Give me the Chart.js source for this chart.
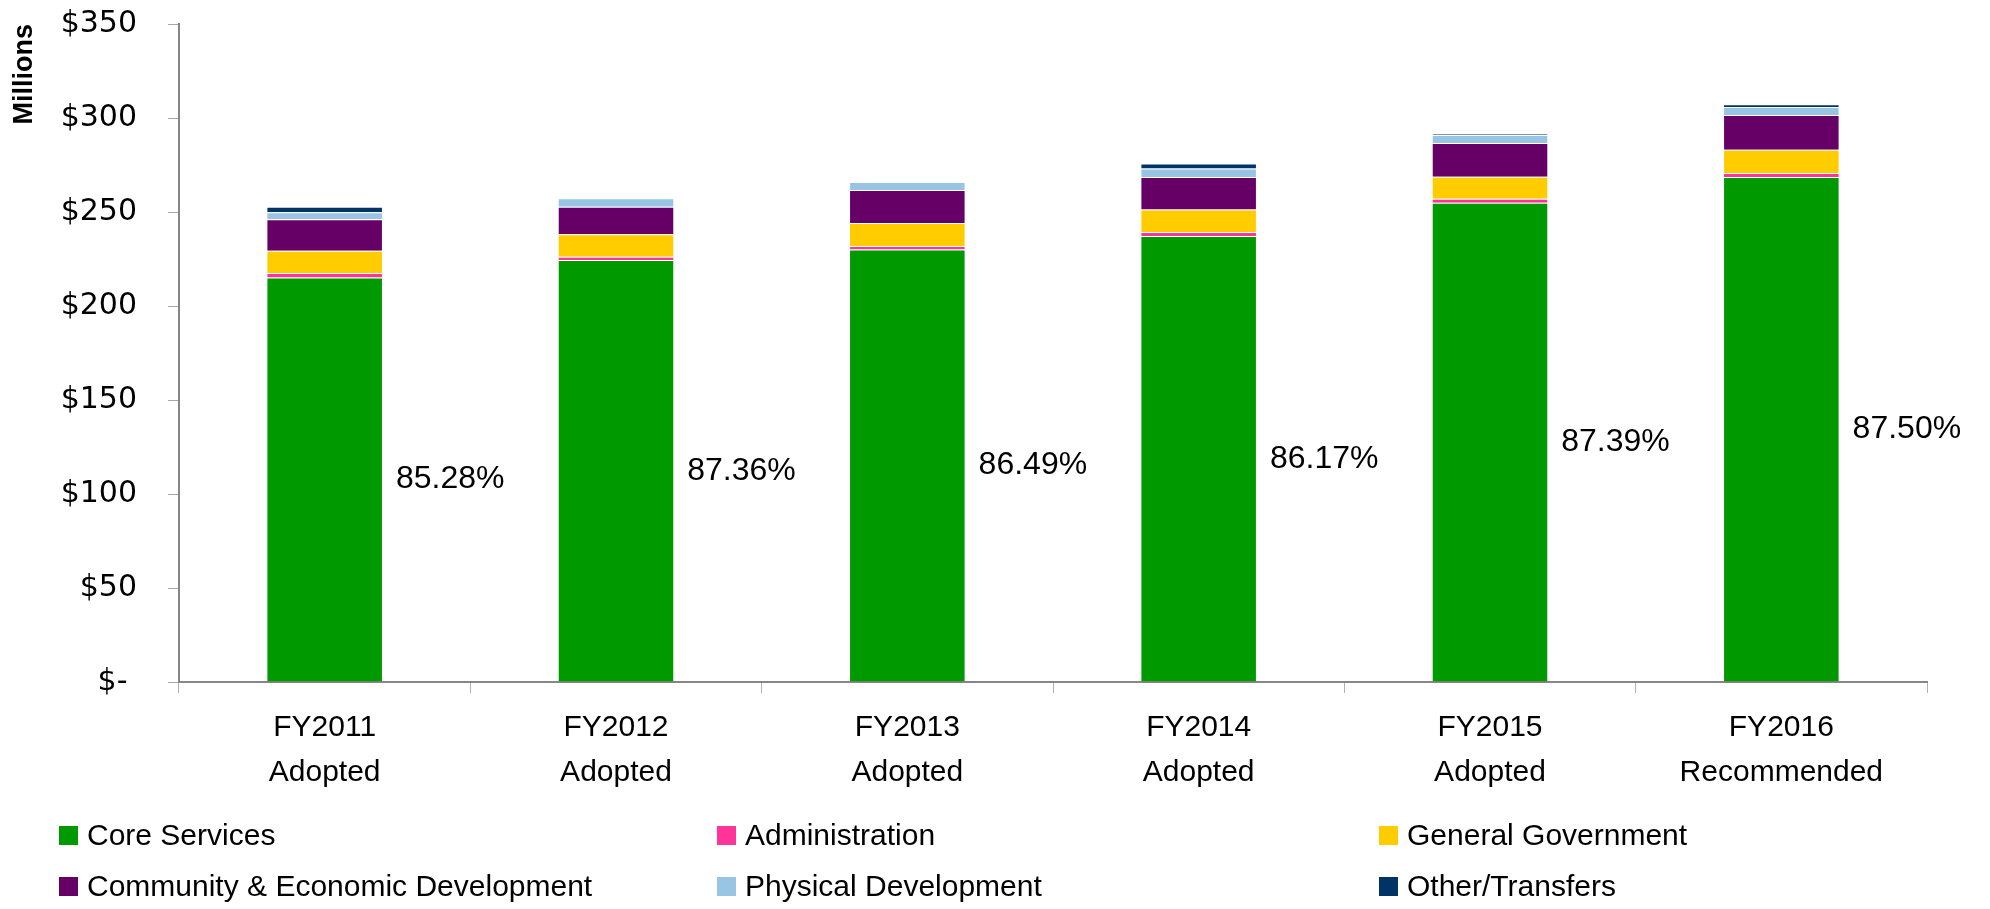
<!DOCTYPE html>
<html>
<head>
<meta charset="utf-8">
<title>Budget by Service Area</title>
<script src="https://cdn.jsdelivr.net/npm/chart.js@4.4.0/dist/chart.umd.min.js"></script>
<style>
    html, body { margin: 0; padding: 0; background: #fff; }
    #wrap { position: relative; width: 1990px; height: 909px; }
    #legend .item {
        position: absolute;
        display: flex;
        align-items: center;
        height: 40px;
        margin-top: -20px;
        font: 30px "Comic Sans MS", "Liberation Sans", Arial, sans-serif;
        color: #000;
        white-space: nowrap;
    }
    #legend .box { width: 19px; height: 19px; margin-right: 9px; }
</style>
</head>
<body>
<div id="wrap">
    <canvas id="budget-chart" width="1990" height="909"></canvas>
    <div id="legend"></div>
</div>
<script>
(function () {
    "use strict";

    // Data (millions of dollars)
    var categories = [
        ["FY2011", "Adopted"],
        ["FY2012", "Adopted"],
        ["FY2013", "Adopted"],
        ["FY2014", "Adopted"],
        ["FY2015", "Adopted"],
        ["FY2016", "Recommended"]
    ];
    var coreServices = [215.2, 224.5, 230.0, 237.3, 254.9, 268.6];
    var administration = [2.3, 1.7, 1.9, 2.1, 2.2, 2.1];
    var generalGovernment = [11.9, 11.9, 12.2, 11.9, 11.7, 12.4];
    var communityDevelopment = [16.8, 14.7, 17.6, 17.3, 17.9, 18.5];
    var physicalDevelopment = [3.7, 4.5, 4.3, 4.5, 4.2, 4.3];
    var otherTransfers = [2.9, 0, 0, 2.7, 0.7, 1.4];
    var corePercents = ["85.28%", "87.36%", "86.49%", "86.17%", "87.39%", "87.50%"];
    var yTickValues = [0, 50, 100, 150, 200, 250, 300, 350];

    var labelFont = '"Comic Sans MS", "Liberation Sans", Arial, sans-serif';

    // Percentage of core services, written right of each bar
    var percentLabels = {
        id: 'percentLabels',
        afterDatasetsDraw: function (chart) {
            var ctx = chart.ctx;
            var meta = chart.getDatasetMeta(0);
            ctx.save();
            ctx.font = '32px "Liberation Sans", Arial, sans-serif';
            ctx.fillStyle = '#000';
            ctx.textAlign = 'left';
            ctx.textBaseline = 'middle';
            meta.data.forEach(function (bar, i) {
                ctx.fillText(corePercents[i], bar.x + bar.width / 2 + 13, (bar.y + bar.base) / 2);
            });
            ctx.restore();
        }
    };

    function series(label, data, color) {
        return {
            label: label,
            data: data,
            backgroundColor: color,
            borderColor: "rgba(255,255,255,0.2)",
            borderWidth: 1,
            barPercentage: 0.4,
            categoryPercentage: 1
        };
    }

    var ctx1 = document.getElementById("budget-chart").getContext("2d");
    var myChart1 = new Chart(ctx1, {
        type: "bar",
        data: {
            labels: categories,
            datasets: [
                series("Core Services", coreServices, "#009900"),
                series("Administration", administration, "#ff3399"),
                series("General Government", generalGovernment, "#ffcc00"),
                series("Community & Economic Development", communityDevelopment, "#660066"),
                series("Physical Development", physicalDevelopment, "#99c5e5"),
                series("Other/Transfers", otherTransfers, "#003366")
            ]
        },
        options: {
            responsive: false,
            animation: false,
            layout: { padding: { top: 24, right: 63, bottom: 102, left: 0 } },
            plugins: {
                legend: { display: false },
                tooltip: { enabled: false }
            },
            scales: {
                x: {
                    stacked: true,
                    grid: { offset: true, drawOnChartArea: false, tickLength: 11, color: "#b0b0b0" },
                    border: { color: "#868686", width: 2 },
                    ticks: {
                        color: "#000",
                        padding: 12,
                        font: { family: labelFont, size: 30, lineHeight: 1.5 }
                    }
                },
                y: {
                    stacked: true,
                    min: 0,
                    max: 350,
                    afterFit: function (scale) {
                        scale.width = 179;
                        scale.paddingTop = 0;
                        scale.paddingBottom = 0;
                    },
                    afterBuildTicks: function (scale) {
                        scale.ticks = yTickValues.map(function (v) { return { value: v }; });
                    },
                    grid: { drawOnChartArea: false, tickLength: 11, color: "#a6a6a6" },
                    border: { color: "#868686", width: 2 },
                    ticks: {
                        color: "#000",
                        padding: 31,
                        font: { family: '"DejaVu Sans", sans-serif', size: 30 },
                        callback: function (v) { return v === 0 ? "$- " : "$" + v; }
                    },
                    title: {
                        display: true,
                        text: "Millions",
                        align: "end",
                        color: "#000",
                        padding: { top: 8, bottom: 0 },
                        font: { family: '"Liberation Sans", Arial, sans-serif', size: 27, weight: "bold" }
                    }
                }
            }
        },
        plugins: [percentLabels]
    });

    // Legend in three columns, two rows
    var legendLeft = [59, 717, 1379];
    var legendMid = [835, 886];
    var legend = document.getElementById("legend");
    myChart1.data.datasets.forEach(function (ds, i) {
        var item = document.createElement("div");
        item.className = "item";
        item.style.left = legendLeft[i % 3] + "px";
        item.style.top = legendMid[Math.floor(i / 3)] + "px";
        var box = document.createElement("span");
        box.className = "box";
        box.style.background = ds.backgroundColor;
        var text = document.createElement("span");
        text.textContent = ds.label;
        item.appendChild(box);
        item.appendChild(text);
        legend.appendChild(item);
    });
})();
</script>
</body>
</html>
